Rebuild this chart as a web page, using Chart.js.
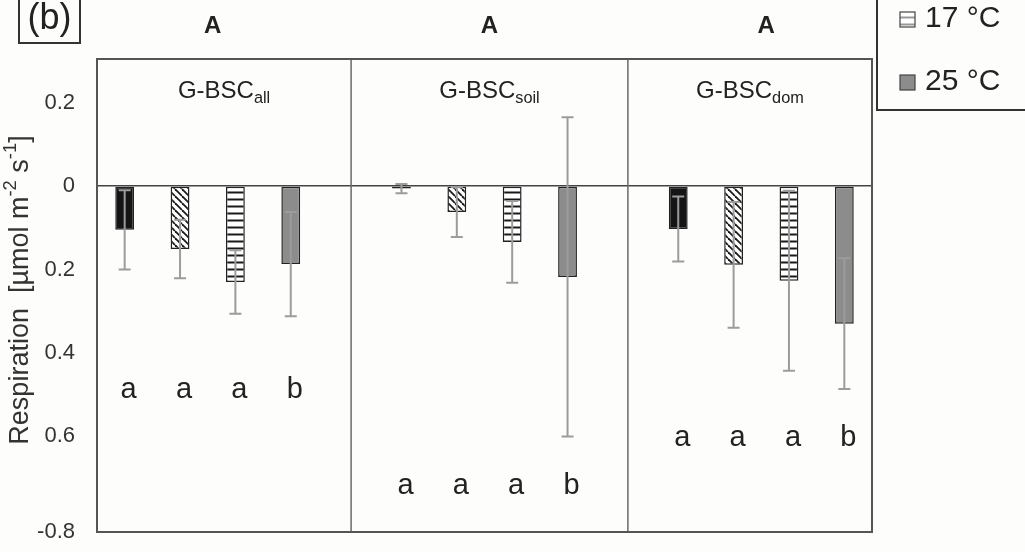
<!DOCTYPE html>
<html>
<head>
<meta charset="utf-8">
<script src="https://cdn.jsdelivr.net/npm/chart.js@4"></script>
<style>
html, body { margin: 0; padding: 0; background: #fdfdfb; }
#wrap { width: 1025px; height: 552px; }
</style>
</head>
<body>
<div id="wrap"><canvas id="myChart" width="1025" height="552"></canvas></div>
<script>
// panel names (G-BSC subscripts) and the letter above each panel
var panelSubs = ['all', 'soil', 'dom'];
var groupLetters = ['A', 'A', 'A'];

// mean respiration per treatment (4 bars per panel) and error
var meanAll = [-0.105, -0.151, -0.23, -0.187];
var meanSoil = [-0.006, -0.062, -0.134, -0.218];
var meanDom = [-0.103, -0.189, -0.227, -0.33];
var errAll = [0.095, 0.07, 0.076, 0.125];
var errSoil = [0.011, 0.06, 0.098, 0.383];
var errDom = [0.078, 0.151, 0.216, 0.157];

// significance letters below the bars, and the level they sit at
var lettersAll = ['a', 'a', 'a', 'b'];
var lettersSoil = ['a', 'a', 'a', 'b'];
var lettersDom = ['a', 'a', 'a', 'b'];
var letterLevel = [-0.49, -0.72, -0.605];

// y axis range and ticks, labels as printed in the figure
// (the printed bottom label sits at the axis floor)
var yMin = -0.83, yMax = 0.305;
var yTicks = [yMin, -0.6, -0.4, -0.2, 0, 0.2];
var yTickLabels = ['-0.8', '0.6', '0.4', '0.2', '0', '0.2'];

var legendLabels = ['17 °C', '25 °C'];

var FONT = '"Liberation Sans", Arial, sans-serif';

function makePattern(kind, ink) {
  var c = document.createElement('canvas');
  var g = c.getContext('2d');
  if (kind == 'diag') {
    c.width = 7; c.height = 7;
    g.fillStyle = '#fff';
    g.fillRect(0, 0, 7, 7);
    g.strokeStyle = ink;
    g.lineWidth = 1.8;
    [-7, 0, 7].forEach(function(k) {
      g.beginPath(); g.moveTo(k, 0); g.lineTo(k + 7, 7); g.stroke();
    });
  } else {
    c.width = 8; c.height = 7;
    g.fillStyle = '#fff';
    g.fillRect(0, 0, 8, 7);
    g.fillStyle = ink;
    g.fillRect(0, 2.5, 8, 2);
  }
  return document.createElement('canvas').getContext('2d').createPattern(c, 'repeat');
}

var fills = ['#151515', makePattern('diag', '#1a1a1a'), makePattern('horiz', '#1a1a1a'), '#8c8c8c'];
var legendFills = [makePattern('horiz', '#999'), '#8c8c8c'];

// build the 14 slot category axis (4 bars, gap, 4 bars, gap, 4 bars)
var means = [meanAll, meanSoil, meanDom];
var errs = [errAll, errSoil, errDom];
var letters = [lettersAll, lettersSoil, lettersDom];
var values = [], errors = [], colors = [], labels = [];
means.forEach(function(m, p) {
  m.forEach(function(v, i) {
    values.push(v); errors.push(errs[p][i]); colors.push(fills[i]); labels.push(panelSubs[p] + i);
  });
  if (p < 2) { values.push(null); errors.push(null); colors.push('#fff'); labels.push('gap' + p); }
});

function slotOf(p, i) { return p * 5 + i; }

// draws text pieces with sub/superscripts, starting at x
function richText(ctx, parts, x, y, size) {
  parts.forEach(function(pt) {
    var s = pt.s ? size * 0.68 : size;
    ctx.font = s + 'px ' + FONT;
    var dy = pt.s == 1 ? -size * 0.38 : (pt.s == -1 ? size * 0.32 : 0);
    ctx.fillText(pt.t, x, y + dy);
    x += ctx.measureText(pt.t).width;
  });
}
function richWidth(ctx, parts, size) {
  var w = 0;
  parts.forEach(function(pt) {
    ctx.font = (pt.s ? size * 0.68 : size) + 'px ' + FONT;
    w += ctx.measureText(pt.t).width;
  });
  return w;
}

var errorBars = {
  id: 'errorBars',
  afterDatasetsDraw: function(chart) {
    var ctx = chart.ctx, y = chart.scales.y;
    var meta = chart.getDatasetMeta(0);
    ctx.save();
    ctx.strokeStyle = '#9c9c9c';
    ctx.lineWidth = 2;
    meta.data.forEach(function(bar, i) {
      if (values[i] == null) return;
      var top = y.getPixelForValue(values[i] + errors[i]);
      var bot = y.getPixelForValue(values[i] - errors[i]);
      ctx.beginPath();
      ctx.moveTo(bar.x, top); ctx.lineTo(bar.x, bot);
      ctx.moveTo(bar.x - 6, top); ctx.lineTo(bar.x + 6, top);
      ctx.moveTo(bar.x - 6, bot); ctx.lineTo(bar.x + 6, bot);
      ctx.stroke();
    });
    ctx.restore();
  }
};

var decor = {
  id: 'decor',
  afterDraw: function(chart) {
    var ctx = chart.ctx, a = chart.chartArea, x = chart.scales.x, y = chart.scales.y;
    ctx.save();
    // dividers between panels
    ctx.strokeStyle = '#6a6a6a';
    ctx.lineWidth = 1.5;
    [4, 9].forEach(function(s) {
      var px = x.getPixelForValue(s) + 5;
      ctx.beginPath(); ctx.moveTo(px, a.top); ctx.lineTo(px, a.bottom); ctx.stroke();
    });
    // frame
    ctx.strokeStyle = '#555';
    ctx.lineWidth = 2;
    ctx.strokeRect(a.left, a.top, a.right - a.left, a.bottom - a.top);

    ctx.fillStyle = '#222';
    ctx.textBaseline = 'middle';
    var bounds = [a.left, x.getPixelForValue(4) + 5, x.getPixelForValue(9) + 5, a.right];
    panelSubs.forEach(function(sub, p) {
      // panel title
      var parts = [{t: 'G-BSC', s: 0}, {t: sub, s: -1}];
      var w = richWidth(ctx, parts, 24);
      var cx = (bounds[p] + bounds[p + 1]) / 2;
      ctx.textAlign = 'left';
      richText(ctx, parts, cx - w / 2, a.top + 32, 24);
      // group letter above frame
      var gx = (x.getPixelForValue(slotOf(p, 0)) + x.getPixelForValue(slotOf(p, 3))) / 2 + 5;
      ctx.textAlign = 'center';
      ctx.font = 'bold 24px ' + FONT;
      ctx.fillText(groupLetters[p], gx, 26);
      // letters under bars
      ctx.font = '29px ' + FONT;
      letters[p].forEach(function(l, i) {
        ctx.fillText(l, x.getPixelForValue(slotOf(p, i)) + 4, y.getPixelForValue(letterLevel[p]));
      });
    });

    // y axis title
    ctx.save();
    ctx.translate(21, 290);
    ctx.rotate(-Math.PI / 2);
    var yt = [{t: 'Respiration  [µmol m', s: 0}, {t: '-2', s: 1}, {t: ' s', s: 0}, {t: '-1', s: 1}, {t: ']', s: 0}];
    var tw = richWidth(ctx, yt, 27);
    ctx.textAlign = 'left';
    ctx.fillStyle = '#333';
    richText(ctx, yt, -tw / 2, 0, 27);
    ctx.restore();

    // panel tag
    ctx.strokeStyle = '#333';
    ctx.lineWidth = 2;
    ctx.strokeRect(19, -5, 61, 48);
    ctx.textAlign = 'center';
    ctx.font = '36px ' + FONT;
    ctx.fillText('(b)', 49.5, 19);

    // legend (cut at the top edge)
    ctx.strokeRect(877, -5, 200, 115);
    ctx.strokeStyle = '#444';
    ctx.lineWidth = 1.2;
    ctx.fillStyle = legendFills[0];
    ctx.fillRect(900, 12, 15, 15);
    ctx.strokeRect(900, 12, 15, 15);
    ctx.fillStyle = legendFills[1];
    ctx.fillRect(900, 75, 15, 15);
    ctx.strokeRect(900, 75, 15, 15);
    ctx.fillStyle = '#222';
    ctx.textAlign = 'left';
    ctx.font = '30px ' + FONT;
    ctx.fillText(legendLabels[0], 925, 19);
    ctx.fillText(legendLabels[1], 925, 82);
    ctx.restore();
  }
};

var ctx = document.getElementById('myChart').getContext('2d');
var chart = new Chart(ctx, {
  type: 'bar',
  data: {
    labels: labels,
    datasets: [{
      data: values,
      backgroundColor: colors,
      borderColor: '#222',
      borderWidth: 1.5,
      borderSkipped: false,
      barPercentage: 0.34,
      categoryPercentage: 1
    }]
  },
  options: {
    responsive: false,
    animation: false,
    devicePixelRatio: 1,
    layout: { padding: { left: 0, right: 153, top: 59, bottom: 20 } },
    plugins: { legend: { display: false }, tooltip: { enabled: false } },
    scales: {
      x: { display: false, offset: true },
      y: {
        min: yMin,
        max: yMax,
        afterBuildTicks: function(s) { s.ticks = yTicks.map(function(v) { return { value: v }; }); },
        afterFit: function(s) { s.width = 97; s.paddingTop = 0; s.paddingBottom = 0; },
        border: { display: false },
        grid: {
          drawTicks: false,
          lineWidth: 1.5,
          color: function(c) { return c.tick && c.tick.value === 0 ? '#444' : 'transparent'; }
        },
        ticks: {
          padding: 22,
          color: '#333',
          font: { family: FONT, size: 22 },
          callback: function(v) { return yTickLabels[yTicks.indexOf(v)]; }
        }
      }
    }
  },
  plugins: [errorBars, decor]
});
</script>
</body>
</html>
